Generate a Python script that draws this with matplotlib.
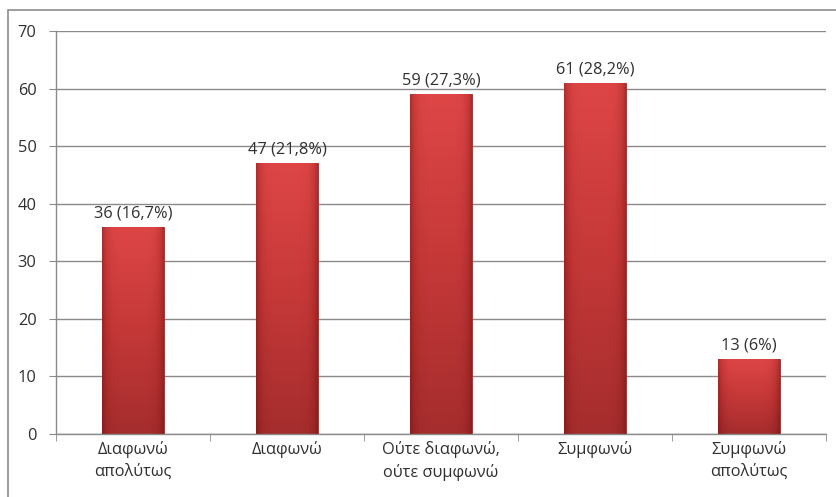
import matplotlib
matplotlib.use("Agg")
import matplotlib.pyplot as plt
import numpy as np
from matplotlib.patches import Rectangle
from matplotlib.colors import LinearSegmentedColormap

plt.rcParams['font.family'] = ['Open Sans', 'DejaVu Sans']

categories = ["Διαφωνώ\nαπολύτως", "Διαφωνώ", "Ούτε διαφωνώ,\nούτε συμφωνώ", "Συμφωνώ", "Συμφωνώ\nαπολύτως"]
values = [36, 47, 59, 61, 13]
labels = ["36 (16,7%)", "47 (21,8%)", "59 (27,3%)", "61 (28,2%)", "13 (6%)"]
yticks = [0, 10, 20, 30, 40, 50, 60, 70]

W, H = 837, 497
FS = 11.8
TXT = '#303030'
fig = plt.figure(figsize=(W / 100, H / 100), dpi=100)
fig.patch.set_facecolor('white')

# outer chart border (only top and left visible)
fig.add_artist(Rectangle((8 / W, -0.2), 1.2, 1.2 - 10 / H, transform=fig.transFigure,
                         fill=False, edgecolor='#8c8c8c', linewidth=1.2))

ax = fig.add_axes([56 / W, 1 - 434 / H, (826 - 56) / W, (434 - 31) / H])
x = np.arange(len(values))

ax.set_axisbelow(True)
ax.yaxis.grid(True, color='#8a8a8a', linewidth=1)
for s in ['top', 'right']:
    ax.spines[s].set_visible(False)
for s in ['left', 'bottom']:
    ax.spines[s].set_color('#8a8a8a')
    ax.spines[s].set_linewidth(1)

bars = ax.bar(x, values, width=0.4, color='#c93a3a', edgecolor='#9a2a2a', linewidth=0.6, zorder=2)

cmap = LinearSegmentedColormap.from_list('redgrad', ['#a52d2d', '#c53838', '#de4646'])
grad = np.linspace(0, 1, 256).reshape(-1, 1)
for b in bars:
    x0, y0 = b.get_x(), b.get_y()
    w, h = b.get_width(), b.get_height()
    im = ax.imshow(grad, extent=(x0, x0 + w, y0, y0 + h), origin='lower', cmap=cmap,
                   aspect='auto', zorder=2.5)
    im.set_clip_path(b)
    hg = np.abs(np.linspace(-1, 1, 64))[None, :] ** 6
    shade = np.zeros((1, 64, 4))
    shade[..., 0] = 0.35
    shade[..., 3] = hg[0] * 0.35
    im2 = ax.imshow(shade, extent=(x0, x0 + w, y0, y0 + h), aspect='auto', zorder=2.6)
    im2.set_clip_path(b)

ax.set_xlim(-0.5, len(values) - 0.5)
ax.set_ylim(0, 70)

for xi, v, lab in zip(x, values, labels):
    ax.annotate(lab, (xi, v), xytext=(0, 4), textcoords='offset points', ha='center', va='bottom',
                fontsize=FS, color=TXT)

ax.set_yticks(yticks)
ax.set_yticklabels([str(t) for t in yticks], fontsize=FS, color=TXT)
ax.tick_params(axis='y', length=5, color='#8a8a8a', pad=9)

ax.set_xticks(x)
ax.set_xticklabels(categories, fontsize=FS, color=TXT, linespacing=1.5)
ax.tick_params(axis='x', length=0, pad=5)
ax.set_xticks(np.arange(len(values) + 1) - 0.5, minor=True)
ax.tick_params(axis='x', which='minor', length=5, color='#8a8a8a')

fig.savefig('out.png', dpi=100)
